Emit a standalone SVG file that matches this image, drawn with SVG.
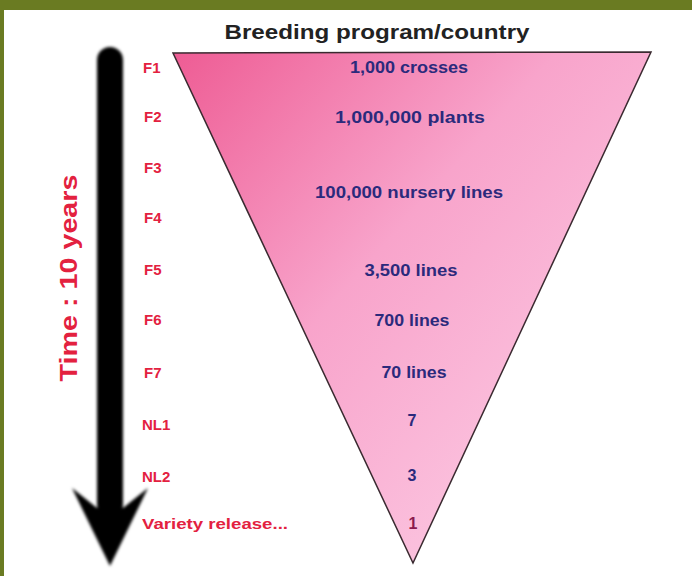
<svg xmlns="http://www.w3.org/2000/svg" width="692" height="576" viewBox="0 0 692 576">
<defs>
<linearGradient id="pinkGrad" x1="173" y1="53" x2="560" y2="400" gradientUnits="userSpaceOnUse">
<stop offset="0" stop-color="#ee5c94"/>
<stop offset="0.55" stop-color="#f8a4cb"/>
<stop offset="1" stop-color="#fbc0dd"/>
</linearGradient>
<filter id="blur" x="-20%" y="-5%" width="140%" height="110%">
<feGaussianBlur stdDeviation="1.8"/>
</filter>
</defs>
<style>
.gen{font-family:"Liberation Sans",Arial,sans-serif;font-weight:bold;font-size:15px;fill:#e3213f;}
.val{font-family:"Liberation Sans",Arial,sans-serif;font-weight:bold;font-size:16px;fill:#2b2a7c;text-anchor:middle;}
</style>
<rect x="0" y="0" width="692" height="576" fill="#ffffff"/>
<rect x="0" y="0" width="692" height="10" fill="#6a7b22"/>
<rect x="0" y="0" width="4" height="576" fill="#6a7b22"/>

<g id="title">
<text x="377" y="39" font-family="Liberation Sans,Arial,sans-serif" font-weight="bold" font-size="19.5" fill="#222222" text-anchor="middle" textLength="305" lengthAdjust="spacingAndGlyphs">Breeding program/country</text>
</g>

<g id="funnel">
<polygon points="173,53 651,52 413,563" fill="url(#pinkGrad)" stroke="#3a2a30" stroke-width="1.5"/>
<text class="val" x="409" y="73" textLength="118" lengthAdjust="spacingAndGlyphs">1,000 crosses</text>
<text class="val" x="410" y="123" textLength="150" lengthAdjust="spacingAndGlyphs">1,000,000 plants</text>
<text class="val" x="409" y="198" textLength="188" lengthAdjust="spacingAndGlyphs">100,000 nursery lines</text>
<text class="val" x="411" y="276" textLength="93" lengthAdjust="spacingAndGlyphs">3,500 lines</text>
<text class="val" x="412" y="326" textLength="75" lengthAdjust="spacingAndGlyphs">700 lines</text>
<text class="val" x="414" y="378" textLength="65" lengthAdjust="spacingAndGlyphs">70 lines</text>
<text class="val" x="412" y="426">7</text>
<text class="val" x="412" y="481">3</text>
<text class="val" x="413" y="529" style="fill:#8b1a4e">1</text>
</g>

<g id="time-arrow">
<g filter="url(#blur)" fill="#000000">
<rect x="97" y="47" width="26" height="470" rx="13" ry="13"/>
<polygon points="97,508 72,488 110,566 148,488 123,508"/>
</g>
<text x="0" y="0" transform="translate(77,278) rotate(-90)" font-family="Liberation Sans,Arial,sans-serif" font-weight="bold" font-size="24" fill="#e3213f" text-anchor="middle" textLength="207" lengthAdjust="spacingAndGlyphs">Time : 10 years</text>
</g>

<g id="generations">
<text class="gen" x="143" y="73">F1</text>
<text class="gen" x="144" y="122">F2</text>
<text class="gen" x="144" y="173">F3</text>
<text class="gen" x="144" y="223">F4</text>
<text class="gen" x="144" y="275">F5</text>
<text class="gen" x="144" y="325">F6</text>
<text class="gen" x="144" y="378">F7</text>
<text class="gen" x="142" y="430">NL1</text>
<text class="gen" x="142" y="482">NL2</text>
<text class="gen" x="142" y="529" textLength="146" lengthAdjust="spacingAndGlyphs">Variety release...</text>
</g>
</svg>
